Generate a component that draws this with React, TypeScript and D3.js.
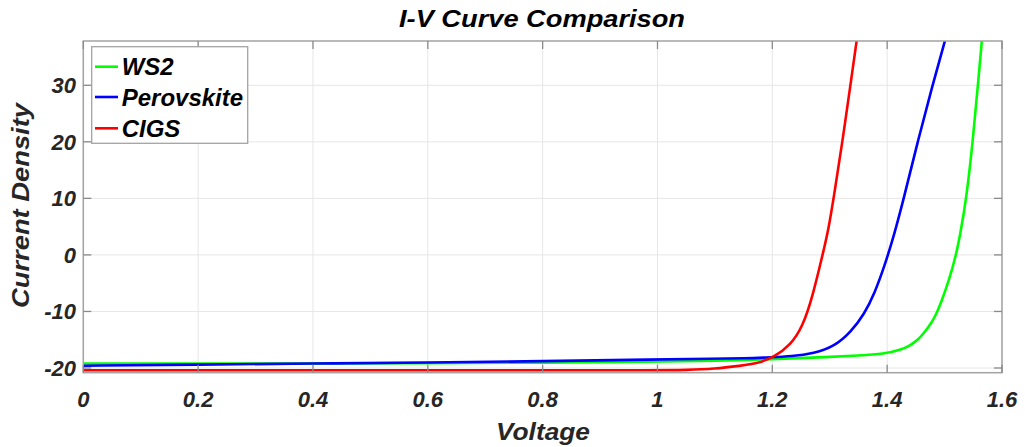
import React from "react";
import * as d3 from "d3";

// ---------- data ----------
const seriesNames = ["WS2", "Perovskite", "CIGS"];
const seriesColors = ["#00ff00", "#0000ff", "#ff0000"];

const ws2V = [0, 0.2, 0.4, 0.6, 0.8, 1.0, 1.1, 1.2, 1.3, 1.35, 1.395, 1.424, 1.44, 1.453, 1.465, 1.476, 1.485, 1.494, 1.508, 1.52, 1.527, 1.538, 1.549, 1.558, 1.565];
const ws2I = [-19.2, -19.2, -19.2, -19.15, -19.05, -18.9, -18.75, -18.45, -18.05, -17.8, -17.5, -16.8, -16.0, -15.1, -13.7, -12.2, -10.6, -8.4, -4.4, 0, 3.5, 10, 20, 30, 38];

const perV = [0, 0.2, 0.4, 0.6, 0.8, 1.0, 1.1, 1.15, 1.2, 1.232, 1.273, 1.308, 1.337, 1.36, 1.378, 1.395, 1.412, 1.429, 1.453, 1.479, 1.501];
const perI = [-19.6, -19.4, -19.2, -19.05, -18.8, -18.5, -18.35, -18.3, -18.1, -17.95, -17.4, -16.2, -13.6, -10.5, -6.8, -2.1, 3.5, 10, 20, 30, 38];

const cigsV = [0, 0.2, 0.4, 0.6, 0.8, 1.0, 1.05, 1.1, 1.145, 1.174, 1.203, 1.232, 1.2527, 1.27, 1.2875, 1.298, 1.3075, 1.322, 1.336, 1.347];
const cigsI = [-20.4, -20.4, -20.4, -20.4, -20.4, -20.4, -20.35, -20.15, -19.6, -19.2, -18.1, -15.9, -12.7, -7.4, 0, 4.6, 10.5, 20, 30, 38];

const xTicks = [0, 0.2, 0.4, 0.6, 0.8, 1, 1.2, 1.4, 1.6];
const yTicks = [-20, -10, 0, 10, 20, 30];
const xDomain = [0, 1.6];
const yDomain = [-20.83, 37.83];

const titleText = "I-V Curve Comparison";
const xLabelText = "Voltage";
const yLabelText = "Current Density";

// ---------- layout ----------
const W = 1025;
const H = 447;
const left = 83.3;
const right = 1002;
const top = 41;
const bottom = 372.7;

const FONT = "'Liberation Sans', Arial, Helvetica, sans-serif";
const AXIS_COLOR = "#a3a3a3";
const GRID_COLOR = "#e6e6e6";
const TEXT_COLOR = "#262626";

export default function App() {
  const x = d3.scaleLinear().domain(xDomain).range([left, right]);
  const y = d3.scaleLinear().domain(yDomain).range([bottom, top]);

  const line = d3
    .line<[number, number]>()
    .x((d) => x(d[0]))
    .y((d) => y(d[1]))
    .curve(d3.curveBasis);

  const series = [
    { name: seriesNames[0], color: seriesColors[0], pts: ws2V.map((v, i) => [v, ws2I[i]] as [number, number]) },
    { name: seriesNames[1], color: seriesColors[1], pts: perV.map((v, i) => [v, perI[i]] as [number, number]) },
    { name: seriesNames[2], color: seriesColors[2], pts: cigsV.map((v, i) => [v, cigsI[i]] as [number, number]) },
  ];

  const tickLen = 8;
  const fmt = (v: number) => String(v);

  const legX = 91.7;
  const legY = 46.7;
  const legW = 156;
  const legH = 96.6;
  const legRows = [66.7, 97, 128.3];

  return (
    <svg
      width={W}
      height={H}
      style={{ position: "absolute", left: 0, top: 0, background: "#fff" }}
      fontFamily={FONT}
    >
      <defs>
        <clipPath id="plotClip">
          <rect x={left} y={top} width={right - left} height={bottom - top} />
        </clipPath>
      </defs>
      <rect x={0} y={0} width={W} height={H} fill="#fff" />

      {/* grid */}
      {xTicks.map((t) => (
        <line key={"gx" + t} x1={x(t)} x2={x(t)} y1={top} y2={bottom} stroke={GRID_COLOR} strokeWidth={1} />
      ))}
      {yTicks.map((t) => (
        <line key={"gy" + t} x1={left} x2={right} y1={y(t)} y2={y(t)} stroke={GRID_COLOR} strokeWidth={1} />
      ))}

      {/* curves */}
      <g clipPath="url(#plotClip)">
        {series.map((s) => (
          <path key={s.name} d={line(s.pts) || ""} fill="none" stroke={s.color} strokeWidth={2.6} strokeLinejoin="round" />
        ))}
      </g>

      {/* box */}
      <rect x={left} y={top} width={right - left} height={bottom - top} fill="none" stroke={AXIS_COLOR} strokeWidth={1.5} />

      {/* ticks */}
      {xTicks.map((t) => (
        <g key={"tx" + t}>
          <line x1={x(t)} x2={x(t)} y1={bottom} y2={bottom - tickLen} stroke="#8a8a8a" strokeWidth={1.3} />
          <line x1={x(t)} x2={x(t)} y1={top} y2={top + tickLen} stroke="#8a8a8a" strokeWidth={1.3} />
          <text
            x={x(t)}
            y={406.5}
            textAnchor="middle"
            fontSize={22}
            fontWeight="bold"
            fontStyle="italic"
            fill={TEXT_COLOR}
          >
            {fmt(t)}
          </text>
        </g>
      ))}
      {yTicks.map((t) => (
        <g key={"ty" + t}>
          <line x1={left} x2={left + tickLen} y1={y(t)} y2={y(t)} stroke="#8a8a8a" strokeWidth={1.3} />
          <line x1={right} x2={right - tickLen} y1={y(t)} y2={y(t)} stroke="#8a8a8a" strokeWidth={1.3} />
          <text
            x={76}
            y={y(t)}
            dy="0.36em"
            textAnchor="end"
            fontSize={22}
            fontWeight="bold"
            fontStyle="italic"
            fill={TEXT_COLOR}
          >
            {fmt(t)}
          </text>
        </g>
      ))}

      {/* title and labels */}
      <text
        x={399}
        y={27}
        fontSize={24}
        fontWeight="bold"
        fontStyle="italic"
        fill="#000"
        textLength={286}
        lengthAdjust="spacingAndGlyphs"
      >
        {titleText}
      </text>
      <text
        x={496}
        y={440}
        fontSize={23.5}
        fontWeight="bold"
        fontStyle="italic"
        fill={TEXT_COLOR}
        textLength={94}
        lengthAdjust="spacingAndGlyphs"
      >
        {xLabelText}
      </text>
      <text
        transform={`translate(29, 308) rotate(-90)`}
        x={0}
        y={0}
        fontSize={23.5}
        fontWeight="bold"
        fontStyle="italic"
        fill={TEXT_COLOR}
        textLength={205}
        lengthAdjust="spacingAndGlyphs"
      >
        {yLabelText}
      </text>

      {/* legend */}
      <rect x={legX} y={legY} width={legW} height={legH} fill="#fff" stroke={AXIS_COLOR} strokeWidth={1.3} />
      {series.map((s, i) => (
        <g key={"leg" + s.name}>
          <line x1={95} x2={118} y1={legRows[i]} y2={legRows[i]} stroke={s.color} strokeWidth={2.6} />
          <text
            x={121.7}
            y={legRows[i] + 8.5}
            fontSize={24}
            fontWeight="bold"
            fontStyle="italic"
            fill="#000"
          >
            {s.name}
          </text>
        </g>
      ))}
    </svg>
  );
}
